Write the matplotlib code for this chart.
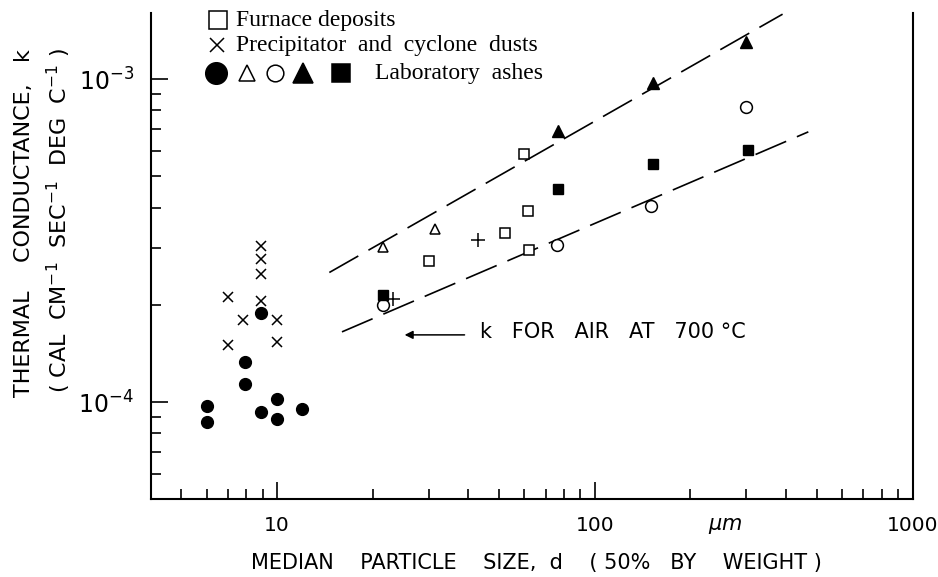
import matplotlib
matplotlib.use("Agg")
import matplotlib.pyplot as plt
from matplotlib.lines import Line2D
from matplotlib.ticker import FixedLocator, FixedFormatter, NullFormatter

plt.rcParams['font.family'] = ['DejaVu Sans']
plt.rcParams['mathtext.fontset'] = 'dejavusans'

# ---------------- data ----------------
furnace_x = [30, 52, 60, 61.5, 62]
furnace_y = [2.74e-4, 3.35e-4, 5.88e-4, 3.92e-4, 2.96e-4]

dust_x = [7, 7, 7.8, 8.9, 8.9, 8.9, 8.9, 10, 10]
dust_y = [2.11e-4, 1.50e-4, 1.80e-4, 2.05e-4, 3.05e-4, 2.78e-4, 2.50e-4, 1.80e-4, 1.53e-4]

plus_x = [23.1, 43]
plus_y = [2.08e-4, 3.18e-4]

filled_circle_x = [6, 6, 7.9, 7.9, 8.9, 8.9, 10, 10, 12]
filled_circle_y = [9.7e-5, 8.65e-5, 1.33e-4, 1.14e-4, 1.89e-4, 9.3e-5, 1.02e-4, 8.85e-5, 9.5e-5]

open_triangle_x = [21.5, 31.3]
open_triangle_y = [3.02e-4, 3.44e-4]

open_circle_x = [21.6, 76, 150, 300]
open_circle_y = [2.00e-4, 3.07e-4, 4.06e-4, 8.18e-4]

filled_triangle_x = [76.5, 152, 300]
filled_triangle_y = [6.9e-4, 9.76e-4, 1.30e-3]

filled_square_x = [21.6, 76.5, 152, 303]
filled_square_y = [2.14e-4, 4.56e-4, 5.45e-4, 6.03e-4]

upper_line_x = [14.6, 390]
upper_line_y = [2.52e-4, 1.59e-3]
lower_line_x = [16.0, 470]
lower_line_y = [1.65e-4, 6.87e-4]

arrow_from = (38.9, 1.615e-4)
arrow_to = (25.2, 1.615e-4)

x_major = [10, 100, 1000]
x_major_labels = ['10', '100', '1000']
x_minor = [5, 6, 7, 8, 9, 20, 30, 40, 50, 60, 70, 80, 90,
           200, 300, 400, 500, 600, 700, 800, 900]
y_major = [1e-4, 1e-3]
y_major_labels = [r'$10^{-4}$', r'$10^{-3}$']
y_minor = [6e-5, 7e-5, 8e-5, 9e-5, 2e-4, 3e-4, 4e-4, 5e-4, 6e-4, 7e-4, 8e-4, 9e-4]

# ---------------- figure ----------------
W, H = 938, 577
fig = plt.figure(figsize=(W / 100, H / 100), dpi=100)
ax = fig.add_axes([150.7 / W, 1 - 499.3 / H, (912.5 - 150.7) / W, (499.3 - 13.3) / H])
ax.set_xscale('log')
ax.set_yscale('log')
ax.set_xlim(4, 1000)
ax.set_ylim(5e-5, 1.6e-3)

for s in ['left', 'bottom', 'right']:
    ax.spines[s].set_linewidth(1.5)
ax.spines['top'].set_visible(False)

ax.xaxis.set_major_locator(FixedLocator(x_major))
ax.xaxis.set_major_formatter(FixedFormatter(x_major_labels))
ax.xaxis.set_minor_locator(FixedLocator(x_minor))
ax.xaxis.set_minor_formatter(NullFormatter())
ax.yaxis.set_major_locator(FixedLocator(y_major))
ax.yaxis.set_major_formatter(FixedFormatter(y_major_labels))
ax.yaxis.set_minor_locator(FixedLocator(y_minor))
ax.yaxis.set_minor_formatter(NullFormatter())

ax.tick_params(which='both', direction='in', top=False, right=False, width=1.2, color='black')
ax.tick_params(which='major', length=12)
ax.tick_params(which='minor', length=7)
ax.tick_params(axis='x', which='major', labelsize=14.5, pad=12)
ax.tick_params(axis='y', which='major', labelsize=17, pad=12)

# dashed lines
dash = (20, 7)
l1, = ax.plot(upper_line_x, upper_line_y, color='black', lw=1.2)
l1.set_dashes(dash)
l2, = ax.plot(lower_line_x, lower_line_y, color='black', lw=1.2)
l2.set_dashes(dash)

# data markers
ax.plot(furnace_x, furnace_y, 's', ms=7, mfc='white', mec='black', mew=1.1, ls='none')
ax.plot(dust_x, dust_y, 'x', ms=7.5, color='black', mew=1.1, ls='none')
ax.plot(plus_x, plus_y, '+', ms=9.5, color='black', mew=1.1, ls='none')
ax.plot(filled_circle_x, filled_circle_y, 'o', ms=8.5, color='black', ls='none')
ax.plot(open_triangle_x, open_triangle_y, '^', ms=7.5, mfc='white', mec='black', mew=1.1, ls='none')
ax.plot(open_circle_x, open_circle_y, 'o', ms=8.5, mfc='white', mec='black', mew=1.1, ls='none')
ax.plot(filled_triangle_x, filled_triangle_y, '^', ms=8, color='black', ls='none')
ax.plot(filled_square_x, filled_square_y, 's', ms=7, color='black', ls='none')

# arrow + annotation
ax.annotate('', xy=arrow_to, xytext=arrow_from,
            arrowprops=dict(arrowstyle='-|>', color='black', lw=1.1,
                            mutation_scale=12, shrinkA=0, shrinkB=0))
ax.text(43.4, 1.578e-4, 'k   FOR   AIR   AT   700 °C', fontsize=15,
        ha='left', va='baseline')

# legend (drawn in figure pixels)
def fx(px):
    return px / W

def fy(py):
    return 1 - py / H

serif = ['Liberation Serif', 'DejaVu Serif']
leg_items = [
    (218, 20, 's', 12.5, 'white'),
    (217, 45, 'x', 10, 'black'),
    (216, 73, 'o', 15.5, 'black'),
    (247, 73, '^', 12, 'white'),
    (275, 73, 'o', 12, 'white'),
    (303, 73, '^', 15, 'black'),
    (341, 73, 's', 13.5, 'black'),
]
for px, py, m, ms, fc in leg_items:
    fig.add_artist(Line2D([fx(px)], [fy(py)], marker=m, ms=ms, mfc=fc, mec='black',
                          color='black', mew=1.1, ls='none', transform=fig.transFigure))
fig.text(fx(236), fy(26), 'Furnace deposits', family=serif, fontsize=17, va='baseline')
fig.text(fx(236), fy(51), 'Precipitator  and  cyclone  dusts', family=serif, fontsize=17, va='baseline')
fig.text(fx(375), fy(79), 'Laboratory  ashes', family=serif, fontsize=17, va='baseline')

# axis labels
fig.text(fx(536), fy(569), 'MEDIAN    PARTICLE    SIZE,  d    ( 50%   BY    WEIGHT )',
         fontsize=15, ha='center', va='baseline')
fig.text(fx(725), fy(530), r'$\mu m$', fontsize=15, ha='center', va='baseline')
fig.text(fx(24), fy(223), 'THERMAL    CONDUCTANCE,   k', fontsize=16, rotation=90,
         ha='center', va='center')
fig.text(fx(59), fy(220), r'( CAL  CM$^{-1}$  SEC$^{-1}$  DEG  C$^{-1}$ )', fontsize=16,
         rotation=90, ha='center', va='center')

fig.savefig('out.png', dpi=100)
